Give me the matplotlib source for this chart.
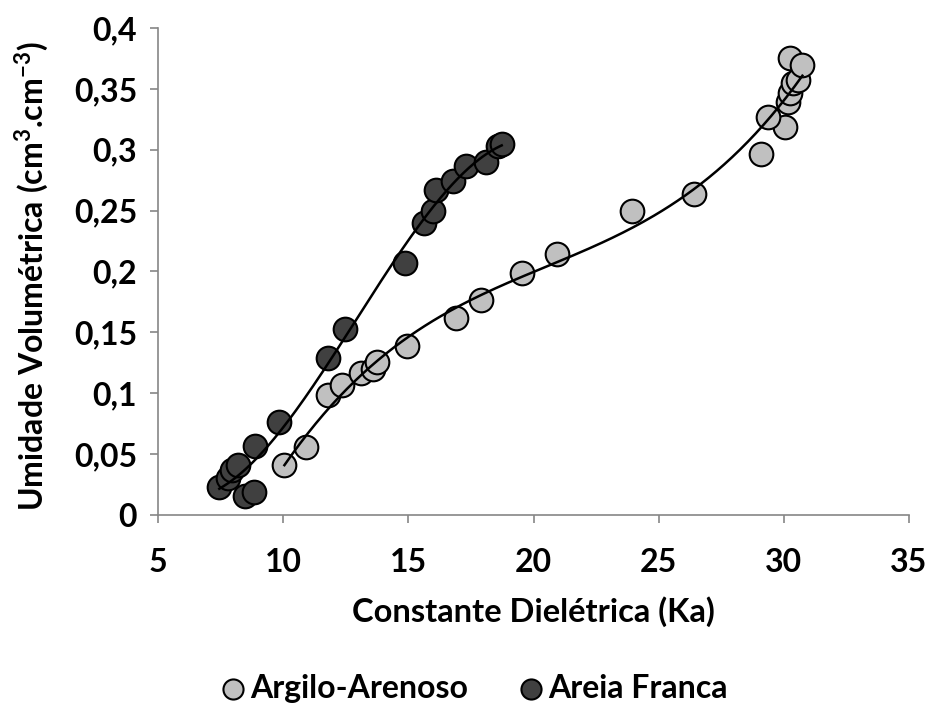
import numpy as np
import matplotlib
matplotlib.use("Agg")
import matplotlib.pyplot as plt

plt.rcParams['font.family'] = ['Lato', 'DejaVu Sans']
plt.rcParams['font.weight'] = 'bold'
plt.rcParams['mathtext.fontset'] = 'custom'
plt.rcParams['mathtext.rm'] = 'Lato'
plt.rcParams['mathtext.bf'] = 'Lato:bold'

# Argilo-Arenoso (light)
ka_argilo = [10.05, 10.9, 11.8, 12.34, 13.1, 13.6, 13.76, 14.93, 16.9, 17.9, 19.53,
             20.95, 23.95, 26.41, 29.09, 30.05, 29.38, 30.18, 30.25, 30.35, 30.58,
             30.25, 30.74]
th_argilo = [0.041, 0.0556, 0.0986, 0.1068, 0.117, 0.120, 0.1254, 0.139, 0.162, 0.1766,
             0.1985, 0.2144, 0.2497, 0.2637, 0.2965, 0.3184, 0.3266, 0.3395, 0.3463,
             0.3545, 0.357, 0.375, 0.3696]

# Areia Franca (dark)
ka_areia = [7.45, 7.81, 7.95, 8.21, 8.48, 8.84, 8.88, 9.83, 11.78, 12.47, 14.87,
            15.63, 16.0, 16.1, 16.77, 17.3, 18.09, 18.6, 18.73]
th_areia = [0.0233, 0.030, 0.037, 0.041, 0.0156, 0.019, 0.0567, 0.0767, 0.129, 0.153,
            0.207, 0.240, 0.250, 0.267, 0.274, 0.287, 0.290, 0.303, 0.305]

xticks = [5, 10, 15, 20, 25, 30, 35]
yticks = [0, 0.05, 0.1, 0.15, 0.2, 0.25, 0.3, 0.35, 0.4]
ylabels = ['0', '0,05', '0,1', '0,15', '0,2', '0,25', '0,3', '0,35', '0,4']

fig = plt.figure(figsize=(9.31, 7.17), dpi=100)
ax = fig.add_axes([0.1697, 0.2817, 0.8067, 0.6793])

light = '#c0c0c0'
dark = '#404040'
ax.scatter(ka_argilo, th_argilo, s=290, c=light, edgecolors='black', linewidths=1.5,
           zorder=3, label='Argilo-Arenoso')
ax.scatter(ka_areia, th_areia, s=290, c=dark, edgecolors='black', linewidths=1.5,
           zorder=3, label='Areia Franca')

# polynomial trendlines
for xs, ys in [(ka_argilo, th_argilo), (ka_areia, th_areia)]:
    p = np.polyfit(xs, ys, 3)
    xx = np.linspace(min(xs), max(xs), 200)
    ax.plot(xx, np.polyval(p, xx), color='black', lw=1.8, zorder=4)

ax.set_xlim(5, 35)
ax.set_ylim(0, 0.4)
ax.set_xticks(xticks)
ax.set_yticks(yticks)
ax.set_yticklabels(ylabels)
ax.tick_params(labelsize=23, length=6, color='#868686', width=1.2, direction='out')
ax.tick_params(axis='y', pad=9)
ax.tick_params(axis='x', pad=18)
for lab in ax.get_xticklabels() + ax.get_yticklabels():
    lab.set_fontweight('bold')
for s in ['top', 'right']:
    ax.spines[s].set_visible(False)
for s in ['left', 'bottom']:
    ax.spines[s].set_color('#868686')
    ax.spines[s].set_linewidth(1.2)

ax.set_xlabel('Constante Dielétrica (Ka)', fontsize=23.5, fontweight='bold')
ax.set_ylabel(r'Umidade Volumétrica (cm$^{\mathbf{3}}$.cm$^{\mathbf{-3}}$)', fontsize=23,
              fontweight='bold')
ax.xaxis.set_label_coords(0.5, -0.166)
ax.yaxis.set_label_coords(-0.143, 0.49)

leg = fig.legend(loc='center', bbox_to_anchor=(0.51, 0.04), ncol=2, frameon=False,
                 fontsize=23, handlelength=0.7, handletextpad=0.2, columnspacing=1.6,
                 markerscale=0.85)
for t in leg.get_texts():
    t.set_fontweight('bold')

fig.savefig('out.png', dpi=100)
